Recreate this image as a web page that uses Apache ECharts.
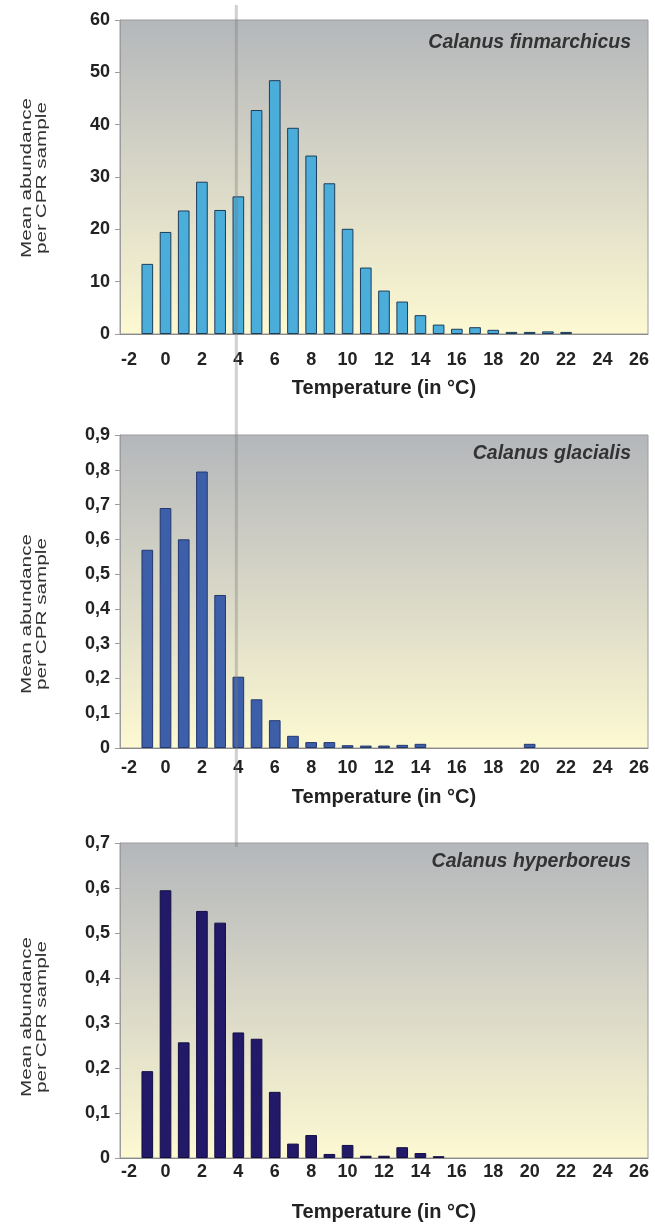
<!DOCTYPE html>
<html>
<head>
<meta charset="utf-8">
<script src="https://cdn.jsdelivr.net/npm/echarts@6/dist/echarts.min.js"></script>
<style>
html,body{margin:0;padding:0;background:#fff;}
#c{width:655px;height:1225px;}
</style>
</head>
<body>
<div id="c"></div>
<script>
// Temperature categories (°C)
const categories = ['-2','-1','0','1','2','3','4','5','6','7','8','9','10','11','12','13','14','15','16','17','18','19','20','21','22','23','24','25','26'];

// Mean abundance per CPR sample
const finmarchicus = [null,13.4,19.5,23.6,29.1,23.7,26.3,42.8,48.5,39.4,34.1,28.8,20.1,12.7,8.3,6.2,3.6,1.8,1.0,1.3,0.8,0.4,0.4,0.5,0.4,null,null,null,null];
const glacialis   = [null,0.57,0.69,0.60,0.795,0.44,0.205,0.14,0.08,0.035,0.017,0.017,0.008,0.007,0.007,0.009,0.012,null,null,null,null,null,0.012,null,null,null,null,null,null];
const hyperboreus = [null,0.193,0.595,0.257,0.549,0.523,0.279,0.265,0.147,0.032,0.051,0.009,0.029,0.005,0.005,0.024,0.011,0.004,null,null,null,null,null,null,null,null,null,null,null];

const speciesNames = ['Calanus finmarchicus','Calanus glacialis','Calanus hyperboreus'];
const yMax = [60, 0.9, 0.7];
const yInterval = [10, 0.1, 0.1];
const xTitle = 'Temperature (in °C)';
const yTitle = 'Mean abundance\nper CPR sample';

const FONT = '"Liberation Sans", Arial, sans-serif';
const seriesData = [finmarchicus, glacialis, hyperboreus];
const fills = ['#4aadda','#3d5fa9','#221a68'];
const borders = ['#1d3c5a','#22386f','#120e44'];

const grids = [
  {left:120, top:20, width:528, height:314},
  {left:120, top:435, width:528, height:313},
  {left:120, top:843, width:528, height:315}
];
const labelMargins = [17, 11, 5];
const nameGaps = [44, 39, 44];
const yTitleY = [178, 614, 1017];
const titleTop = [33, 444, 852];

const bg = {type:'linear', x:0, y:0, x2:0, y2:1, colorStops:[
  {offset:0, color:'#b4b7bb'},
  {offset:0.45, color:'#d5d4c6'},
  {offset:1, color:'#fdf9d2'}
]};

const fmt = (i) => (v) => {
  if (i === 0) return String(Math.round(v));
  if (Math.abs(v) < 1e-9) return '0';
  return v.toFixed(1).replace('.', ',');
};

const option = {
  animation:false,
  backgroundColor:'#ffffff',
  grid: grids.map(g => Object.assign({show:true, backgroundColor:bg, borderColor:'#9c9c9c', borderWidth:1}, g)),
  xAxis: grids.map((g,i) => ({
    type:'category', gridIndex:i, data:categories,
    axisTick:{show:false},
    axisLine:{lineStyle:{color:'#8a8a8a', width:1}},
    axisLabel:{interval:1, margin:labelMargins[i], fontSize:18, fontWeight:'bold', color:'#222', fontFamily:FONT},
    name:xTitle, nameLocation:'middle', nameGap:nameGaps[i],
    nameTextStyle:{fontSize:20, fontWeight:'bold', color:'#222', fontFamily:FONT}
  })),
  yAxis: grids.map((g,i) => ({
    type:'value', gridIndex:i, min:0, max:yMax[i], interval:yInterval[i],
    splitLine:{show:false},
    axisLine:{show:true, lineStyle:{color:'#9c9c9c'}},
    axisTick:{show:true, length:5, lineStyle:{color:'#9c9c9c'}},
    axisLabel:{margin:10, fontSize:18, fontWeight:'bold', color:'#222', fontFamily:FONT, formatter:fmt(i)}
  })),
  series: seriesData.map((d,i) => ({
    type:'bar', xAxisIndex:i, yAxisIndex:i, data:d, barWidth:'64%',
    itemStyle:{color:fills[i], borderColor:borders[i], borderWidth:1}
  })),
  graphic: []
};

grids.forEach((g,i) => {
  option.graphic.push({
    id:'sp'+i, type:'text', right: 655 - 631, top: titleTop[i], z:10,
    style:{text:speciesNames[i], font:'italic bold 19.5px ' + FONT, fill:'#333'}
  });
  option.graphic.push({
    id:'yt'+i, type:'text', x:34, y:yTitleY[i], rotation:Math.PI/2, scaleX:1.38, z:10,
    style:{text:yTitle, font:'15px ' + FONT, fill:'#333', align:'center', verticalAlign:'middle', lineHeight:15}
  });
});

const chart = echarts.init(document.getElementById('c'), null, {renderer:'canvas'});
chart.setOption(option);

// reference line at 4 °C crossing the panels
const x4 = chart.convertToPixel({gridIndex:0}, ['4', 0])[0];
chart.setOption({graphic:[{
  id:'line4', type:'line', z:20, silent:true,
  shape:{x1:x4 - 2, y1:5, x2:x4 - 2, y2:grids[2].top + 4},
  style:{stroke:'rgba(120,120,120,0.35)', lineWidth:3}
}]});
</script>
</body>
</html>
